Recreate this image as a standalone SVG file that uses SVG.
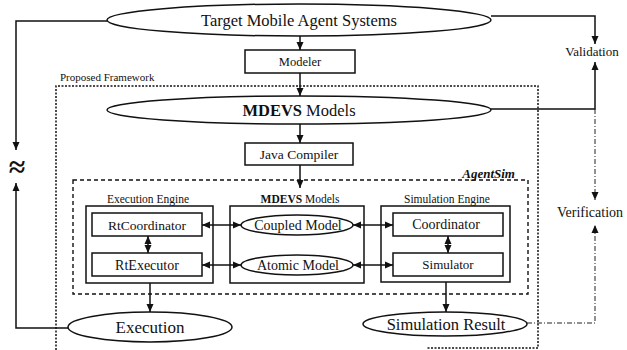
<svg xmlns="http://www.w3.org/2000/svg" width="627" height="350" viewBox="0 0 627 350">
<style>
.s{fill:none;stroke:#111;stroke-width:1.5}
.b{fill:#fff;stroke:#111;stroke-width:1.5}
.c{fill:none;stroke:#111;stroke-width:1.5}
.dot{fill:none;stroke:#111;stroke-width:1.5;stroke-dasharray:2 1.5}
.dash{fill:none;stroke:#111;stroke-width:1.4;stroke-dasharray:4 3}
.thin{fill:none;stroke:#222;stroke-width:1;stroke-dasharray:5 2 1 2}
text{font-family:"Liberation Serif","Times New Roman",serif;fill:#111;text-anchor:middle}
</style>
<defs>
<marker id="ah" markerUnits="userSpaceOnUse" markerWidth="8" markerHeight="8" refX="8" refY="4" orient="auto-start-reverse">
<path d="M0,0.5 L8,4 L0,7.5 z" fill="#111"/>
</marker>
</defs>

<g id="proposed-framework">
<path class="dot" d="M56,350 V86 H538 V348 H427"/>
<text x="60" y="81" style="font-size:11px;text-anchor:start">Proposed Framework</text>
</g>
<g id="agentsim">
<rect class="dash" x="73" y="180" width="455" height="114"/>
<text x="515" y="178" style="font-size:13px;font-weight:bold;font-style:italic;text-anchor:end">AgentSim</text>
</g>

<g id="target-systems">
<ellipse class="b" cx="299" cy="20" rx="192" ry="16"/>
<text x="299" y="26" style="font-size:16.5px">Target Mobile Agent Systems</text>
</g>
<g id="modeler">
<rect class="b" x="245" y="50" width="110" height="23"/>
<text x="300" y="66" style="font-size:12.5px">Modeler</text>
</g>
<g id="mdevs-models">
<ellipse class="b" cx="299" cy="110" rx="192" ry="14"/>
<text x="299" y="116" style="font-size:16.5px"><tspan font-weight="bold">MDEVS</tspan> Models</text>
</g>
<g id="java-compiler">
<rect class="b" x="245" y="143" width="108" height="22"/>
<text x="299" y="159" style="font-size:13.5px">Java Compiler</text>
</g>

<g id="execution-engine">
<rect class="c" x="86" y="206" width="127" height="77"/>
<text x="148" y="203" style="font-size:11.5px">Execution Engine</text>
</g>
<g id="rtcoordinator">
<rect class="b" x="92" y="213" width="110" height="23"/>
<text x="147" y="230" style="font-size:13.5px">RtCoordinator</text>
</g>
<g id="rtexecutor">
<rect class="b" x="92" y="253" width="110" height="23"/>
<text x="147" y="270" style="font-size:14px">RtExecutor</text>
</g>

<g id="mdevs-box">
<rect class="c" x="230" y="206" width="134" height="77"/>
<text x="300" y="203" style="font-size:11.5px"><tspan font-weight="bold">MDEVS</tspan> Models</text>
</g>
<g id="coupled-model">
<ellipse class="b" cx="297" cy="225" rx="56" ry="10"/>
<text x="298" y="230" style="font-size:14px">Coupled Model</text>
</g>
<g id="atomic-model">
<ellipse class="b" cx="297" cy="265" rx="56" ry="10"/>
<text x="298" y="270" style="font-size:14px">Atomic Model</text>
</g>

<g id="simulation-engine">
<rect class="c" x="381" y="206" width="129" height="76"/>
<text x="447" y="203" style="font-size:11.5px">Simulation Engine</text>
</g>
<g id="coordinator">
<rect class="b" x="393" y="213" width="110" height="23"/>
<text x="446" y="229" style="font-size:14px">Coordinator</text>
</g>
<g id="simulator">
<rect class="b" x="393" y="253" width="110" height="23"/>
<text x="448" y="269" style="font-size:13px">Simulator</text>
</g>

<g id="execution">
<ellipse class="b" cx="150" cy="327" rx="82" ry="15"/>
<text x="150" y="333" style="font-size:17px">Execution</text>
</g>
<g id="simulation-result">
<ellipse class="b" cx="445" cy="324" rx="82" ry="12"/>
<text x="446" y="330" style="font-size:16.5px">Simulation Result</text>
</g>

<g id="validation">
<text x="592" y="56" style="font-size:13px">Validation</text>
</g>
<g id="verification">
<text x="590" y="217" style="font-size:14px">Verification</text>
</g>

<g id="connectors">
<line class="s" x1="300" y1="36" x2="300" y2="50" marker-end="url(#ah)"/>
<line class="s" x1="300" y1="73" x2="300" y2="96" marker-end="url(#ah)"/>
<line class="s" x1="300" y1="124" x2="300" y2="143" marker-end="url(#ah)"/>
<line class="s" x1="300" y1="165" x2="300" y2="188" marker-end="url(#ah)"/>
<line class="s" x1="202" y1="225" x2="241" y2="225" marker-start="url(#ah)" marker-end="url(#ah)"/>
<line class="s" x1="202" y1="265" x2="241" y2="265" marker-start="url(#ah)" marker-end="url(#ah)"/>
<line class="s" x1="353" y1="225" x2="393" y2="225" marker-start="url(#ah)" marker-end="url(#ah)"/>
<line class="s" x1="353" y1="265" x2="393" y2="265" marker-start="url(#ah)" marker-end="url(#ah)"/>
<line class="s" x1="148" y1="236" x2="148" y2="253" marker-start="url(#ah)" marker-end="url(#ah)"/>
<line class="s" x1="448" y1="236" x2="448" y2="253" marker-start="url(#ah)" marker-end="url(#ah)"/>
<line class="s" x1="150" y1="283" x2="150" y2="312" marker-end="url(#ah)"/>
<line class="s" x1="446" y1="282" x2="446" y2="312" marker-end="url(#ah)"/>
<path class="s" d="M107,21 H16 V150" marker-end="url(#ah)"/>
<path class="s" d="M68,328 H16 V183" marker-end="url(#ah)"/>
<path class="s" d="M491,16 H595 V44" marker-end="url(#ah)"/>
<path class="s" d="M491,109 H595 V62" marker-end="url(#ah)"/>
<path class="thin" d="M595,109 V200" marker-end="url(#ah)"/>
<path class="thin" d="M527,323 H595 V225" marker-end="url(#ah)"/>
<text x="17" y="177" style="font-size:30px;font-weight:bold">≈</text>
</g>
</svg>
